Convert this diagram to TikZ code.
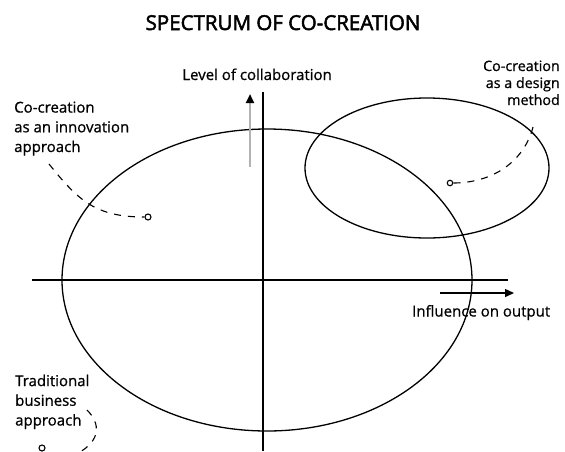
\documentclass[tikz,border=0pt]{standalone}
\usepackage{fontspec}
\setmainfont{Open Sans}
\usetikzlibrary{arrows.meta}
\begin{document}
\begin{tikzpicture}[x=1pt,y=-1pt,
  lbl/.style={font=\fontsize{15}{19.7}\selectfont\addfontfeature{FakeBold=0.8}, inner sep=0},
  lblr/.style={font=\fontsize{14.3}{17}\selectfont\addfontfeature{FakeBold=0.8}, inner sep=0, align=right},
  ax/.style={line width=1.4pt},
  curve/.style={line width=1.3pt},
  lead/.style={line width=1.1pt, dash pattern=on 7pt off 7pt},
  dot/.style={circle, draw, line width=1.1pt, inner sep=0, minimum size=6pt},
]
\useasboundingbox (0,0) rectangle (565,451);
% title
\node[font=\fontsize{20.5}{24}\selectfont\addfontfeature{FakeBold=2.5}, anchor=base, inner sep=0] (title) at (283,30) {SPECTRUM OF CO-CREATION};
% ellipses
\draw[curve] (267,280) ellipse [x radius=205, y radius=151];
\draw[curve] (427,168) ellipse [x radius=122, y radius=70];
% axes
\coordinate (vtop) at (263,92);
\coordinate (vbot) at (263,451);
\coordinate (hl) at (32,280);
\coordinate (hr) at (508,280);
\draw[ax] (vtop) -- (vbot);
\draw[ax] (hl) -- (hr);
\coordinate (ha1) at (440,293);
\coordinate (ha2) at (514,293);
\draw[ax, -{Triangle[length=9pt,width=8pt]}] (ha1) -- (ha2);
\coordinate (va1) at (250,167);
\coordinate (va2) at (250,94);
\draw[line width=2.2pt, gray!60, -{Triangle[length=9pt,width=8pt,color=black]}] (va1) -- (va2);
% axis labels
\node[lbl, anchor=base east] (ylab) at (332,80) {Level of collaboration};
\node[lbl, anchor=base west] (xlab) at (412,316.5) {Influence on output};
% labels (base anchor = last line's baseline)
\node[lbl, anchor=base west, align=left] (innov) at (14,152) {Co-creation\\as an innovation\\approach};
\node[lblr, anchor=base east] (design) at (560,105) {Co-creation\\as a design\\method};
\node[lbl, anchor=base west, align=left] (trad) at (15,425.5) {Traditional\\business\\approach};
% dots
\node[dot] (d1) at (148,217) {};
\node[dot, minimum size=5.5pt] (d2) at (450,183) {};
\node[dot] (d3) at (42,448) {};
% leaders
\coordinate (s1) at (49,164);
\coordinate (s2) at (533,127);
\coordinate (s3) at (87,410);
\coordinate (e3) at (80,452);
\draw[lead] (s1) .. controls (78,200) and (95,217) .. (d1.west);
\draw[lead] (s2) .. controls (524,162) and (492,183) .. (d2.east);
\draw[lead] (s3) .. controls (101,424) and (100,440) .. (e3);
\end{tikzpicture}
\end{document}
